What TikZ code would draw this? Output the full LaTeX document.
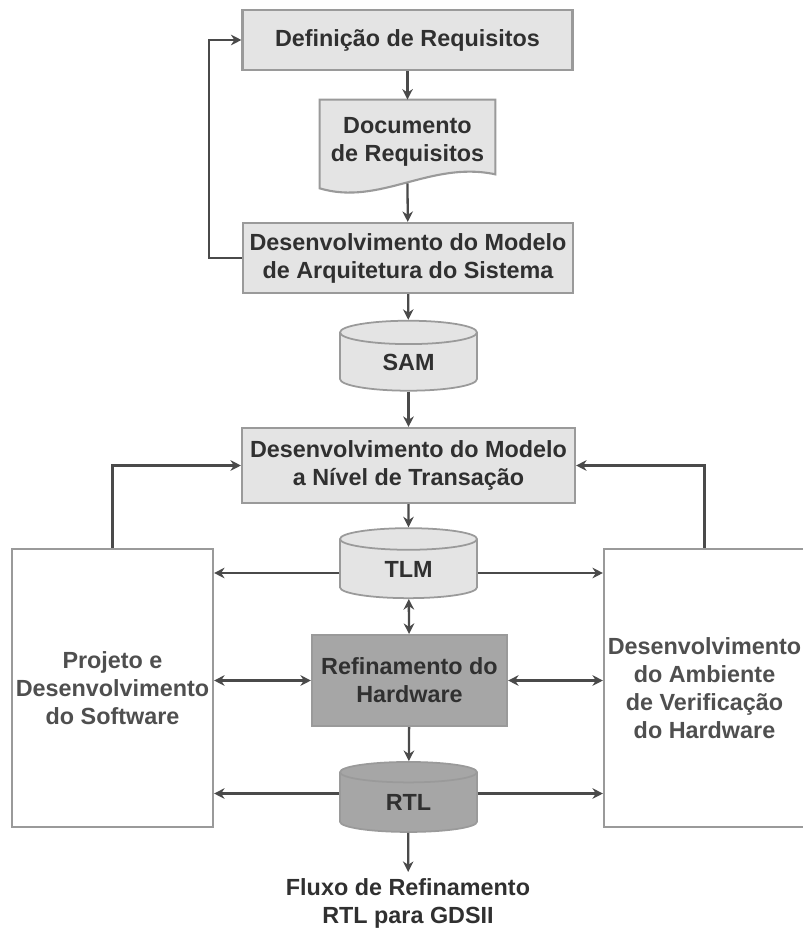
\documentclass[tikz,border=0pt]{standalone}
\usepackage{fontspec}
\setmainfont{Liberation Sans}
\usetikzlibrary{shapes.geometric, arrows.meta}

\definecolor{boxfill}{HTML}{E4E4E4}
\definecolor{boxline}{HTML}{9A9A9A}
\definecolor{darkfill}{HTML}{A6A6A6}
\definecolor{wire}{HTML}{4A4A4A}
\definecolor{ink}{HTML}{303030}

\begin{document}
\begin{tikzpicture}[>={Stealth[length=6pt,width=6pt]}, x=0.02cm, y=-0.02cm,
  every node/.style={font=\bfseries\fontsize{13.3}{15.9}\selectfont, text=ink, align=center},
  caixa/.style={draw=boxline, line width=1.2pt, fill=boxfill, inner sep=0pt},
  escura/.style={caixa, fill=darkfill},
  lateral/.style={draw=boxline, line width=1.2pt, fill=white, inner sep=0pt,
                  minimum width=4.02cm, minimum height=5.56cm, text=ink!85},
  banco/.style={cylinder, shape border rotate=90, aspect=0.45, draw=boxline,
                line width=1pt, fill=boxfill, inner sep=0pt,
                minimum width=2.74cm, minimum height=1.4cm},
  seta/.style={->, draw=wire, line width=1.3pt}]

\useasboundingbox (0,0) rectangle (803,929);

% Fase de especificacao
\node[caixa, minimum width=6.6cm, minimum height=1.2cm] (def) at (407.5,40)
  {Definição de Requisitos};
\node[minimum width=3.5cm, minimum height=1.66cm, inner sep=0pt] (doc) at (407.5,141.5) {};
\filldraw[draw=boxline, line width=1.2pt, fill=boxfill]
  ([yshift=-0.1cm]doc.south west) -- (doc.north west) -- (doc.north east)
  -- ([yshift=0.18cm]doc.south east)
  .. controls ([xshift=-1.3cm,yshift=0.46cm]doc.south east)
  and ([xshift=1.2cm,yshift=-0.46cm]doc.south west) .. ([yshift=-0.1cm]doc.south west)
  -- cycle;
\node at (doc) {Documento\\de Requisitos};
\node[caixa, minimum width=6.6cm, minimum height=1.4cm] (arq) at (408,258)
  {Desenvolvimento do Modelo\\de Arquitetura do Sistema};

% Modelos
\node[banco] (sam) at (408.5,362) {SAM};
\node[caixa, minimum width=6.66cm, minimum height=1.5cm] (tlmdev) at (408.5,465.5)
  {Desenvolvimento do Modelo\\a Nível de Transação};
\node[banco] (tlm) at (408.5,569) {TLM};
\node[escura, minimum width=3.9cm, minimum height=1.82cm] (ref) at (409.5,680.5)
  {Refinamento do\\Hardware};
\node[banco, fill=darkfill] (rtl) at (408.5,802.5) {RTL};
\node (fluxo) at (408,903) {Fluxo de Refinamento\\RTL para GDSII};

% Caixas laterais
\node[lateral] (sw) at (112.5,688) {Projeto e\\Desenvolvimento\\do Software};
\node[lateral] (hw) at (704.5,688) {Desenvolvimento\\do Ambiente\\de Verificação\\do Hardware};

% Fluxo principal
\draw[seta] (def) -- (doc.north);
\draw[seta] (doc.south) -- (arq);
\draw[seta] (arq) -- (sam);
\draw[seta] (sam) -- (tlmdev);
\draw[seta] (tlmdev) -- (tlm);
\draw[seta, <->] (tlm) -- (ref);
\draw[seta] (ref) -- (rtl);
\draw[seta] (rtl) -- (fluxo);

% Realimentacao
\draw[seta] (arq.west) -- ++(-33,0) |- (def.west);
\draw[seta] (sw.north) |- (tlmdev.west);
\draw[seta] (hw.north) |- (tlmdev.east);

% Ligacoes laterais
\draw[seta] ([yshift=-0.08cm]tlm.west) -- ([yshift=-0.08cm]tlm.west -| sw.east);
\draw[seta] ([yshift=-0.08cm]tlm.east) -- ([yshift=-0.08cm]tlm.east -| hw.west);
\draw[seta, <->] (ref.west) -- (ref.west -| sw.east);
\draw[seta, <->] (ref.east) -- (ref.east -| hw.west);
\draw[seta] ([yshift=0.18cm]rtl.west) -- ([yshift=0.18cm]rtl.west -| sw.east);
\draw[seta] ([yshift=0.18cm]rtl.east) -- ([yshift=0.18cm]rtl.east -| hw.west);

\end{tikzpicture}
\end{document}
